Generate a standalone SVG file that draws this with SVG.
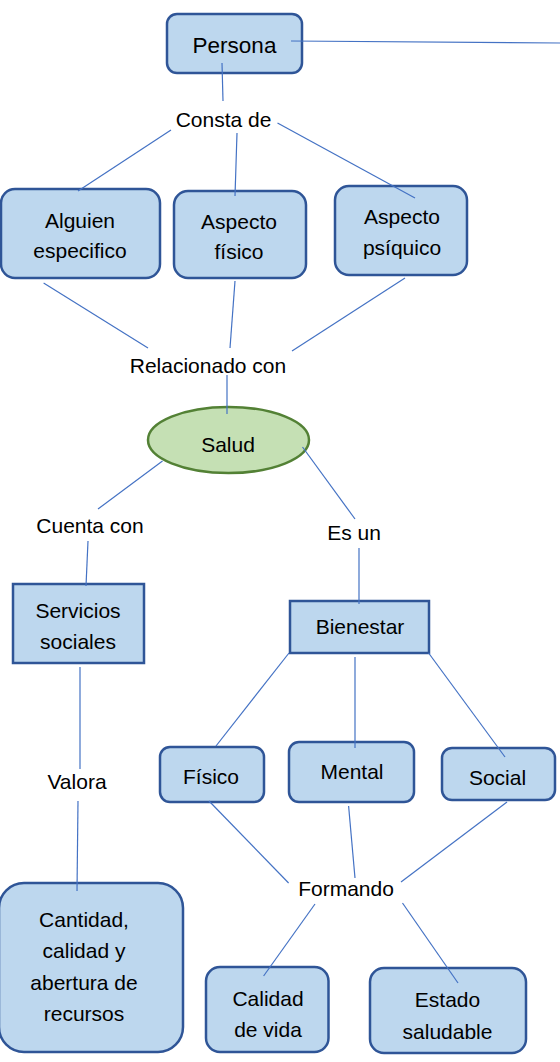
<svg xmlns="http://www.w3.org/2000/svg" width="560" height="1062" viewBox="0 0 560 1062">
<style>
.box{fill:#BDD7EE;stroke:#2F5597;stroke-width:2.5}
.ell{fill:#C5E0B4;stroke:#538135;stroke-width:2.5}
text{font-family:"Liberation Sans",Arial,sans-serif;font-size:21px;fill:#000;text-anchor:middle}
.big{font-size:22.5px}
.ln{stroke:#4472C4;stroke-width:1.2;fill:none}
</style>
<rect width="560" height="1062" fill="#fff"/>
<g id="persona"><rect class="box" x="167" y="14" width="135" height="59" rx="10"/><text class="big" x="234.5" y="53">Persona</text></g>
<g id="consta"><text x="223.5" y="127">Consta de</text></g>
<g id="alguien"><rect class="box" x="1" y="189" width="159" height="89" rx="14"/><text x="80" y="228">Alguien</text><text x="80" y="258">especifico</text></g>
<g id="fisico1"><rect class="box" x="174" y="191" width="132" height="87" rx="14"/><text x="239" y="229">Aspecto</text><text x="239" y="259">físico</text></g>
<g id="psiquico"><rect class="box" x="335" y="186" width="132" height="89" rx="14"/><text x="402" y="224">Aspecto</text><text x="402" y="255">psíquico</text></g>
<g id="relacionado"><text x="208" y="373">Relacionado con</text></g>
<g id="salud"><ellipse class="ell" cx="228.5" cy="440" rx="80.5" ry="33"/><text x="228" y="452">Salud</text></g>
<g id="cuenta"><text x="90" y="533">Cuenta con</text></g>
<g id="esun"><text x="354" y="540">Es un</text></g>
<g id="servicios"><rect class="box" x="13" y="584" width="131" height="79"/><text x="78" y="618">Servicios</text><text x="78" y="649">sociales</text></g>
<g id="bienestar"><rect class="box" x="290" y="601" width="139" height="52"/><text x="360" y="634">Bienestar</text></g>
<g id="valora"><text x="77" y="789">Valora</text></g>
<g id="fisico2"><rect class="box" x="160" y="747" width="104" height="55" rx="10"/><text x="211" y="784">Físico</text></g>
<g id="mental"><rect class="box" x="289" y="742" width="125" height="60" rx="10"/><text x="352" y="779">Mental</text></g>
<g id="social"><rect class="box" x="442" y="748" width="113" height="52" rx="10"/><text x="497.5" y="785">Social</text></g>
<g id="formando"><text x="346" y="896">Formando</text></g>
<g id="cantidad"><rect class="box" x="-1" y="883" width="184" height="169" rx="25"/><text x="84" y="927">Cantidad,</text><text x="84" y="958">calidad y</text><text x="84" y="990">abertura de</text><text x="84" y="1021">recursos</text></g>
<g id="calidadvida"><rect class="box" x="206" y="967" width="122.5" height="85" rx="14"/><text x="268" y="1006">Calidad</text><text x="268" y="1037">de vida</text></g>
<g id="estado"><rect class="box" x="370" y="968" width="156" height="85" rx="14"/><text x="447.5" y="1007">Estado</text><text x="447.5" y="1039">saludable</text></g>
<g id="connectors" class="ln">
<line class="ln" x1="291" y1="41" x2="560" y2="43"/>
<line class="ln" x1="222" y1="63" x2="223" y2="101"/>
<line class="ln" x1="171" y1="130" x2="78" y2="191"/>
<line class="ln" x1="237" y1="133" x2="235" y2="196"/>
<line class="ln" x1="277.5" y1="123" x2="415" y2="198"/>
<line class="ln" x1="43.6" y1="283" x2="148" y2="348"/>
<line class="ln" x1="235" y1="281" x2="230" y2="348"/>
<line class="ln" x1="405" y1="278" x2="292" y2="351"/>
<line class="ln" x1="227" y1="375" x2="227" y2="414"/>
<line class="ln" x1="162.5" y1="461" x2="98" y2="509"/>
<line class="ln" x1="88" y1="541" x2="86" y2="586"/>
<line class="ln" x1="302.5" y1="447" x2="355" y2="519"/>
<line class="ln" x1="359" y1="548" x2="359" y2="604"/>
<line class="ln" x1="80" y1="667" x2="80" y2="769"/>
<line class="ln" x1="289" y1="653" x2="216" y2="746"/>
<line class="ln" x1="355" y1="657" x2="355" y2="748"/>
<line class="ln" x1="428.6" y1="653" x2="505" y2="757"/>
<line class="ln" x1="78" y1="801" x2="77" y2="891"/>
<line class="ln" x1="209" y1="801" x2="288.6" y2="883"/>
<line class="ln" x1="348.6" y1="806" x2="355" y2="878"/>
<line class="ln" x1="507" y1="802" x2="401" y2="882"/>
<line class="ln" x1="315" y1="904" x2="263.6" y2="976"/>
<line class="ln" x1="402.5" y1="903" x2="458" y2="983"/>
</g>
</svg>
